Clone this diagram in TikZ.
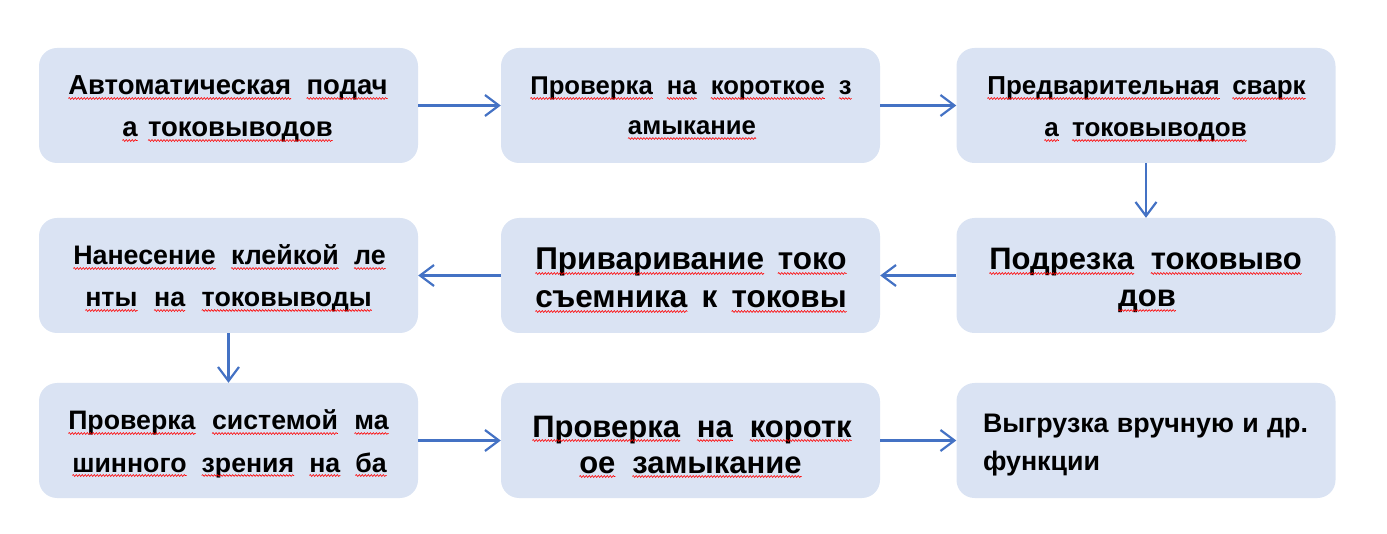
\documentclass[tikz,border=0pt]{standalone}
\usepackage{fontspec}
\setmainfont{Liberation Sans}
\usetikzlibrary{arrows.meta,decorations.pathmorphing}
\definecolor{boxfill}{HTML}{DAE3F3}
\definecolor{arrowblue}{HTML}{4472C4}
\newcommand\fz[1]{\fontsize{#1}{#1}\selectfont\bfseries}
\tikzset{
  wavy/.style={draw=red, line width=0.6pt, decorate, decoration={snake, amplitude=0.9pt, segment length=3pt}},
  procbox/.style={fill=boxfill, draw=none, rounded corners=18pt, minimum width=379pt, minimum height=115pt, inner sep=0pt},
  txtline/.style={anchor=base, inner sep=0pt, outer sep=0pt, text=black},
  flow/.style={draw=arrowblue, line width=2.2pt, -{Straight Barb[length=14pt, width=21pt, line width=2.2pt]}}
}
\newcommand\wu[1]{\tikz[baseline=(wq.base)]{\node[inner sep=0pt, outer sep=0pt] (wq) {#1};\draw[wavy] ([yshift=-3.5pt]wq.base west) -- ([yshift=-3.5pt]wq.base east);}}
\begin{document}
\begin{tikzpicture}[x=1pt, y=-1pt]
\useasboundingbox (0,0) rectangle (1387,534);
% boxes
\node[procbox] (b1) at (228.5,105.5) {};
\node[procbox] (b2) at (690.5,105.5) {};
\node[procbox] (b3) at (1146,105.5) {};
\node[procbox] (b4) at (228.5,275.5) {};
\node[procbox] (b5) at (690.5,275.5) {};
\node[procbox] (b6) at (1146,275.5) {};
\node[procbox] (b7) at (228.5,440.5) {};
\node[procbox] (b8) at (690.5,440.5) {};
\node[procbox] (b9) at (1146,440.5) {};
% texts
\node[txtline, font=\fz{27.5}] (t1a) at (228,95) {\makebox[320pt][s]{\wu{Автоматическая}\ \wu{подач}}};
\node[txtline, font=\fz{27.5}] (t1b) at (227.5,137) {\makebox[211pt][s]{\wu{а}\ \wu{токовыводов}}};
\node[txtline, font=\fz{25.7}] (t2a) at (691,95) {\makebox[322pt][s]{\wu{Проверка}\ \wu{на}\ \wu{короткое}\ \wu{з}}};
\node[txtline, font=\fz{25.7}] (t2b) at (692,135) {\wu{амыкание}};
\node[txtline, font=\fz{26}] (t3a) at (1146.5,95) {\makebox[319pt][s]{\wu{Предварительная}\ \wu{сварк}}};
\node[txtline, font=\fz{26}] (t3b) at (1145.5,137) {\makebox[203pt][s]{\wu{а}\ \wu{токовыводов}}};
\node[txtline, font=\fz{26.8}] (t4a) at (229.5,265) {\makebox[313pt][s]{\wu{Нанесение}\ \wu{клейкой}\ \wu{ле}}};
\node[txtline, font=\fz{26.8}] (t4b) at (228.5,307) {\makebox[287pt][s]{\wu{нты}\ \wu{на}\ \wu{токовыводы}}};
\node[txtline, font=\fz{31.5}] (t5a) at (691,270) {\makebox[312pt][s]{\wu{Приваривание}\ \wu{токо}}};
\node[txtline, font=\fz{31.5}] (t5b) at (691,308) {\makebox[312pt][s]{\wu{съемника}\ к\ \wu{токовы}}};
\node[txtline, font=\fz{31}] (t6a) at (1145.5,270) {\makebox[313pt][s]{\wu{Подрезка}\ \wu{токовыво}}};
\node[txtline, font=\fz{31}] (t6b) at (1147,307) {\wu{дов}};
\node[txtline, font=\fz{26.7}] (t7a) at (228.5,430) {\makebox[321pt][s]{\wu{Проверка}\ \wu{системой}\ \wu{ма}}};
\node[txtline, font=\fz{26.7}] (t7b) at (229.5,472) {\makebox[315pt][s]{\wu{шинного}\ \wu{зрения}\ \wu{на}\ \wu{ба}}};
\node[txtline, font=\fz{31}] (t8a) at (692,437) {\makebox[320pt][s]{\wu{Проверка}\ \wu{на}\ \wu{коротк}}};
\node[txtline, font=\fz{31}] (t8b) at (690.5,473) {\makebox[223pt][s]{\wu{ое}\ \wu{замыкание}}};
\node[txtline, anchor=base west, font=\fz{26.8}] (t9a) at (983,432) {\makebox[325pt][s]{Выгрузка\ вручную\ и\ др.}};
\node[txtline, anchor=base west, font=\fz{26.8}] (t9b) at (983,470) {функции};
% connectors
\draw[flow] (b1.east) -- (b2.west);
\draw[flow] (b2.east) -- (b3.west);
\draw[flow] (b3.south) -- (b6.north);
\draw[flow] (b6.west) -- (b5.east);
\draw[flow] (b5.west) -- (b4.east);
\draw[flow] (b4.south) -- (b7.north);
\draw[flow] (b7.east) -- (b8.west);
\draw[flow] (b8.east) -- (b9.west);
\end{tikzpicture}
\end{document}
